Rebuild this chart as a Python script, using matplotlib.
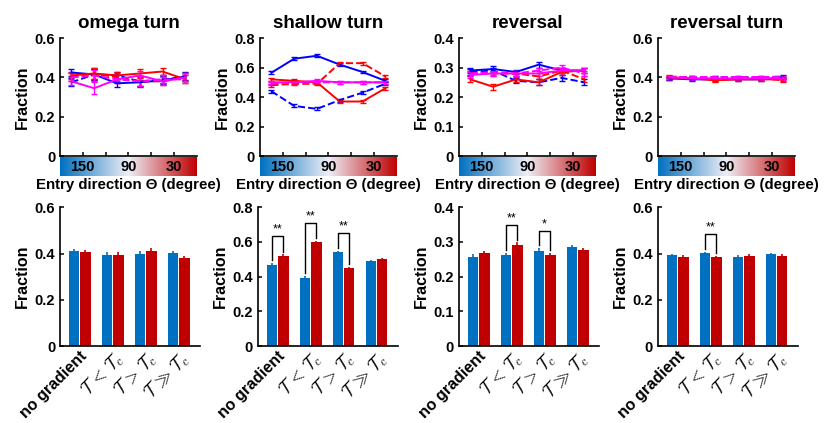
import numpy as np
import matplotlib
matplotlib.use('Agg')
import matplotlib.pyplot as plt
from matplotlib.colors import LinearSegmentedColormap

plt.rcParams['font.family'] = ['Liberation Sans', 'DejaVu Sans']
plt.rcParams['font.weight'] = 'bold'

TITLES = ['omega turn', 'shallow turn', 'reversal', 'reversal turn']
YTICKS = [[0, 0.2, 0.4, 0.6], [0, 0.2, 0.4, 0.6, 0.8],
          [0, 0.1, 0.2, 0.3, 0.4], [0, 0.2, 0.4, 0.6]]
ANGLES = [165, 135, 105, 75, 45, 15]   # entry direction bin centres (deg)
CBAR_TICKS = [150, 90, 30]

# --- top row: fraction vs entry direction (6 series per panel) ---
OMEGA_B  = [0.425, 0.415, 0.370, 0.375, 0.385, 0.405]
OMEGA_BD = [0.375, 0.415, 0.410, 0.380, 0.390, 0.400]
OMEGA_R  = [0.410, 0.420, 0.410, 0.420, 0.430, 0.390]
OMEGA_RD = [0.400, 0.420, 0.400, 0.380, 0.380, 0.400]
OMEGA_M  = [0.380, 0.345, 0.390, 0.410, 0.380, 0.400]
OMEGA_MD = [0.400, 0.410, 0.390, 0.380, 0.390, 0.390]
OMEGA_ERR = [0.02, 0.03, 0.02, 0.025, 0.02, 0.02]

SHALLOW_B  = [0.565, 0.660, 0.680, 0.620, 0.570, 0.510]
SHALLOW_BD = [0.440, 0.340, 0.320, 0.380, 0.430, 0.490]
SHALLOW_R  = [0.520, 0.510, 0.500, 0.370, 0.370, 0.460]
SHALLOW_RD = [0.480, 0.490, 0.490, 0.630, 0.630, 0.540]
SHALLOW_M  = [0.500, 0.500, 0.510, 0.500, 0.500, 0.500]
SHALLOW_MD = [0.490, 0.500, 0.500, 0.500, 0.500, 0.500]
SHALLOW_ERR = [0.01, 0.01, 0.01, 0.01, 0.01, 0.01]

REV_B  = [0.290, 0.295, 0.285, 0.310, 0.290, 0.290]
REV_BD = [0.285, 0.290, 0.255, 0.250, 0.265, 0.250]
REV_R  = [0.260, 0.235, 0.260, 0.250, 0.285, 0.290]
REV_RD = [0.280, 0.280, 0.280, 0.270, 0.290, 0.260]
REV_M  = [0.275, 0.280, 0.280, 0.280, 0.290, 0.290]
REV_MD = [0.280, 0.285, 0.280, 0.290, 0.300, 0.280]
REV_ERR = [0.01, 0.01, 0.008, 0.01, 0.01, 0.01]

REVT_B  = [0.395, 0.390, 0.390, 0.390, 0.390, 0.400]
REVT_BD = [0.395, 0.400, 0.400, 0.400, 0.400, 0.405]
REVT_R  = [0.400, 0.395, 0.385, 0.390, 0.390, 0.390]
REVT_RD = [0.405, 0.400, 0.390, 0.395, 0.395, 0.385]
REVT_M  = [0.400, 0.395, 0.395, 0.395, 0.395, 0.395]
REVT_MD = [0.400, 0.400, 0.400, 0.400, 0.400, 0.400]
REVT_ERR = [0.008, 0.008, 0.008, 0.008, 0.008, 0.008]

TOP_SERIES = [
    [OMEGA_B, OMEGA_BD, OMEGA_R, OMEGA_RD, OMEGA_M, OMEGA_MD],
    [SHALLOW_B, SHALLOW_BD, SHALLOW_R, SHALLOW_RD, SHALLOW_M, SHALLOW_MD],
    [REV_B, REV_BD, REV_R, REV_RD, REV_M, REV_MD],
    [REVT_B, REVT_BD, REVT_R, REVT_RD, REVT_M, REVT_MD],
]
TOP_ERR = [OMEGA_ERR, SHALLOW_ERR, REV_ERR, REVT_ERR]
SERIES_STYLE = [('#0000FF', '-'), ('#0000FF', '--'), ('#FF0000', '-'),
                ('#FF0000', '--'), ('#FF00FF', '-'), ('#FF00FF', '--')]

# --- bottom row: bar comparison by condition ---
CONDITIONS = ['no gradient', r'$\mathcal{T}\,<\,\mathcal{T}_c$',
              r'$\mathcal{T}\,>\,\mathcal{T}_c$', r'$\mathcal{T}\,\gg\,\mathcal{T}_c$']
BAR_BLUE = [[0.410, 0.395, 0.400, 0.402],
            [0.470, 0.395, 0.540, 0.490],
            [0.258, 0.262, 0.275, 0.285],
            [0.392, 0.402, 0.387, 0.396]]
BAR_RED = [[0.405, 0.395, 0.412, 0.380],
           [0.520, 0.597, 0.450, 0.500],
           [0.268, 0.292, 0.261, 0.276],
           [0.387, 0.385, 0.390, 0.390]]
BAR_ERR = [0.01, 0.008, 0.007, 0.006]
SIG = [['', '', '', ''], ['**', '**', '**', ''], ['', '**', '*', ''], ['', '**', '', '']]

BLUE = '#0070C0'
RED = '#C00000'
cmap = LinearSegmentedColormap.from_list('dir', [BLUE, '#EEEEF6', RED])

fig = plt.figure(figsize=(8.24, 4.23), dpi=100)
top_left = [0.0728, 0.3155, 0.557, 0.7985]
bot_left = [0.0728, 0.313, 0.557, 0.7985]


def tick_fmt(v):
    return '0' if v == 0 else f'{v:g}'


def style_axes(ax, yt):
    for s in ['top', 'right']:
        ax.spines[s].set_visible(False)
    for s in ['left', 'bottom']:
        ax.spines[s].set_linewidth(1.2)
    ax.set_ylim(0, yt[-1])
    ax.set_yticks(yt)
    ax.set_yticklabels([tick_fmt(v) for v in yt])
    ax.tick_params(direction='in', length=3, width=1.1, labelsize=10.5)
    ax.set_ylabel('Fraction', fontsize=11.5, fontweight='bold', labelpad=3)


for i in range(4):
    # top line plots
    ax = fig.add_axes([top_left[i], 0.631, 0.166, 0.279])
    for ys, (c, ls) in zip(TOP_SERIES[i], SERIES_STYLE):
        ax.errorbar(ANGLES, ys, yerr=TOP_ERR[i], color=c, ls=ls, lw=1.4,
                    elinewidth=1.0, capsize=2)
    ax.set_xlim(180, 0)
    ax.set_xticks([150, 120, 90, 60, 30])
    ax.set_xticklabels([])
    style_axes(ax, YTICKS[i])
    ax.set_title(TITLES[i], fontsize=13.5, fontweight='bold', pad=7)

    # colour strip for entry direction
    cax = fig.add_axes([top_left[i], 0.584, 0.166, 0.045])
    grad = np.linspace(180, 0, 256).reshape(1, -1)
    cax.imshow(grad, cmap=cmap.reversed(), aspect='auto', extent=[180, 0, 0, 1],
               vmin=0, vmax=180)
    cax.set_xlim(180, 0)
    for t in CBAR_TICKS:
        cax.text(t, 0.45, str(t), ha='center', va='center', fontsize=10.5,
                 fontweight='bold', color='black')
    cax.set_axis_off()
    fig.text(top_left[i] + 0.083, 0.562, 'Entry direction \u0398 (degree)',
             ha='center', va='center', fontsize=10.8, fontweight='bold')

    # bottom bar plots
    bx = fig.add_axes([bot_left[i], 0.182, 0.170, 0.328])
    xs = np.arange(len(CONDITIONS))
    w = 0.32
    bx.bar(xs - 0.17, BAR_BLUE[i], w, color=BLUE, yerr=BAR_ERR[i],
           error_kw=dict(ecolor=BLUE, elinewidth=1.2, capsize=0))
    bx.bar(xs + 0.17, BAR_RED[i], w, color=RED, yerr=BAR_ERR[i],
           error_kw=dict(ecolor=RED, elinewidth=1.2, capsize=0))
    bx.set_xlim(-0.6, 3.65)
    style_axes(bx, YTICKS[i])
    bx.set_xticks(xs)
    bx.tick_params(axis='x', length=0, pad=2)
    labels = bx.set_xticklabels(CONDITIONS, rotation=45, ha='right',
                                rotation_mode='anchor')
    labels[0].set_fontsize(11.5)
    labels[0].set_fontweight('bold')
    for lab in labels[1:]:
        lab.set_fontsize(12.5)
        lab.set_math_fontfamily('cm')

    # significance brackets
    ymax = YTICKS[i][-1]
    for k, s in enumerate(SIG[i]):
        if not s:
            continue
        b, r = BAR_BLUE[i][k], BAR_RED[i][k]
        top = max(b, r) + 0.14 * ymax
        bx.plot([k - 0.17, k - 0.17, k + 0.17, k + 0.17],
                [b + BAR_ERR[i] + 0.02 * ymax, top, top, r + BAR_ERR[i] + 0.02 * ymax],
                color='black', lw=1.0)
        bx.text(k, top + 0.005 * ymax, s, ha='center', va='bottom', fontsize=9,
                fontweight='normal')

fig.savefig('out.png', dpi=100)
